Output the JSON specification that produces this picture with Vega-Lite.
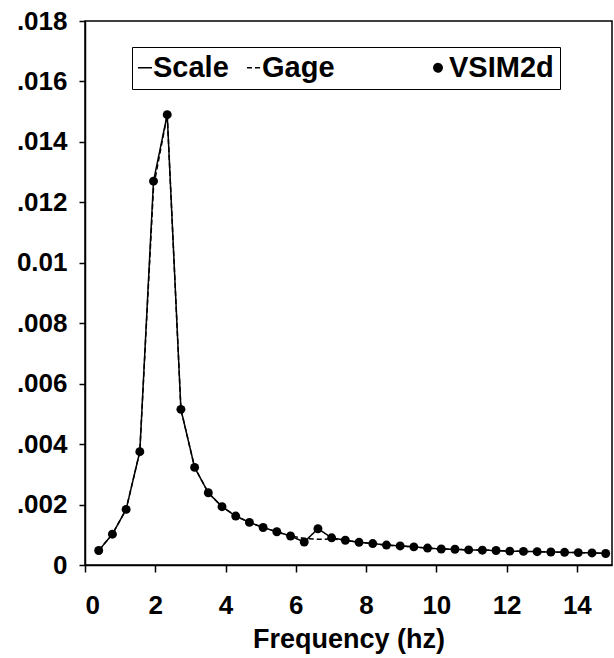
{
  "$schema": "https://vega.github.io/schema/vega-lite/v6.json",
  "width": 527,
  "height": 544,
  "autosize": {"type": "none"},
  "padding": {"left": 85, "top": 21, "right": 2, "bottom": 93},
  "background": "white",
  "data": {
    "values": [
      {"freq": 0.39, "value": 0.00048, "series": "Scale"},
      {"freq": 0.78, "value": 0.00102, "series": "Scale"},
      {"freq": 1.17, "value": 0.00184, "series": "Scale"},
      {"freq": 1.56, "value": 0.00375, "series": "Scale"},
      {"freq": 1.95, "value": 0.0127, "series": "Scale"},
      {"freq": 2.34, "value": 0.0149, "series": "Scale"},
      {"freq": 2.73, "value": 0.00515, "series": "Scale"},
      {"freq": 3.12, "value": 0.00323, "series": "Scale"},
      {"freq": 3.51, "value": 0.00239, "series": "Scale"},
      {"freq": 3.90, "value": 0.00193, "series": "Scale"},
      {"freq": 4.29, "value": 0.00162, "series": "Scale"},
      {"freq": 4.68, "value": 0.00141, "series": "Scale"},
      {"freq": 5.07, "value": 0.00124, "series": "Scale"},
      {"freq": 5.46, "value": 0.0011, "series": "Scale"},
      {"freq": 5.85, "value": 0.00096, "series": "Scale"},
      {"freq": 6.24, "value": 0.00076, "series": "Scale"},
      {"freq": 6.63, "value": 0.0012, "series": "Scale"},
      {"freq": 7.02, "value": 0.0009, "series": "Scale"},
      {"freq": 7.41, "value": 0.00082, "series": "Scale"},
      {"freq": 7.80, "value": 0.00075, "series": "Scale"},
      {"freq": 8.19, "value": 0.00071, "series": "Scale"},
      {"freq": 8.58, "value": 0.00066, "series": "Scale"},
      {"freq": 8.97, "value": 0.00063, "series": "Scale"},
      {"freq": 9.36, "value": 0.0006, "series": "Scale"},
      {"freq": 9.75, "value": 0.00056, "series": "Scale"},
      {"freq": 10.14, "value": 0.00053, "series": "Scale"},
      {"freq": 10.53, "value": 0.00052, "series": "Scale"},
      {"freq": 10.92, "value": 0.0005, "series": "Scale"},
      {"freq": 11.31, "value": 0.00049, "series": "Scale"},
      {"freq": 11.70, "value": 0.00048, "series": "Scale"},
      {"freq": 12.09, "value": 0.00046, "series": "Scale"},
      {"freq": 12.48, "value": 0.00045, "series": "Scale"},
      {"freq": 12.87, "value": 0.00044, "series": "Scale"},
      {"freq": 13.26, "value": 0.00043, "series": "Scale"},
      {"freq": 13.65, "value": 0.00042, "series": "Scale"},
      {"freq": 14.04, "value": 0.00041, "series": "Scale"},
      {"freq": 14.43, "value": 0.0004, "series": "Scale"},
      {"freq": 14.82, "value": 0.00038, "series": "Scale"},

      {"freq": 0.39, "value": 0.00048, "series": "Gage"},
      {"freq": 0.78, "value": 0.00102, "series": "Gage"},
      {"freq": 1.17, "value": 0.00184, "series": "Gage"},
      {"freq": 1.56, "value": 0.00375, "series": "Gage"},
      {"freq": 1.95, "value": 0.0125, "series": "Gage"},
      {"freq": 2.34, "value": 0.0149, "series": "Gage"},
      {"freq": 2.73, "value": 0.00515, "series": "Gage"},
      {"freq": 3.12, "value": 0.00323, "series": "Gage"},
      {"freq": 3.51, "value": 0.00239, "series": "Gage"},
      {"freq": 3.90, "value": 0.00193, "series": "Gage"},
      {"freq": 4.29, "value": 0.00162, "series": "Gage"},
      {"freq": 4.68, "value": 0.00141, "series": "Gage"},
      {"freq": 5.07, "value": 0.00124, "series": "Gage"},
      {"freq": 5.46, "value": 0.0011, "series": "Gage"},
      {"freq": 5.85, "value": 0.00096, "series": "Gage"},
      {"freq": 6.24, "value": 0.00088, "series": "Gage"},
      {"freq": 6.63, "value": 0.00085, "series": "Gage"},
      {"freq": 7.02, "value": 0.00086, "series": "Gage"},
      {"freq": 7.41, "value": 0.00082, "series": "Gage"},
      {"freq": 7.80, "value": 0.00075, "series": "Gage"},
      {"freq": 8.19, "value": 0.00071, "series": "Gage"},
      {"freq": 8.58, "value": 0.00066, "series": "Gage"},
      {"freq": 8.97, "value": 0.00063, "series": "Gage"},
      {"freq": 9.36, "value": 0.0006, "series": "Gage"},
      {"freq": 9.75, "value": 0.00056, "series": "Gage"},
      {"freq": 10.14, "value": 0.00053, "series": "Gage"},
      {"freq": 10.53, "value": 0.00052, "series": "Gage"},
      {"freq": 10.92, "value": 0.0005, "series": "Gage"},
      {"freq": 11.31, "value": 0.00049, "series": "Gage"},
      {"freq": 11.70, "value": 0.00048, "series": "Gage"},
      {"freq": 12.09, "value": 0.00046, "series": "Gage"},
      {"freq": 12.48, "value": 0.00045, "series": "Gage"},
      {"freq": 12.87, "value": 0.00044, "series": "Gage"},
      {"freq": 13.26, "value": 0.00043, "series": "Gage"},
      {"freq": 13.65, "value": 0.00042, "series": "Gage"},
      {"freq": 14.04, "value": 0.00041, "series": "Gage"},
      {"freq": 14.43, "value": 0.0004, "series": "Gage"},
      {"freq": 14.82, "value": 0.00038, "series": "Gage"},

      {"freq": 0.39, "value": 0.00048, "series": "VSIM2d"},
      {"freq": 0.78, "value": 0.00102, "series": "VSIM2d"},
      {"freq": 1.17, "value": 0.00184, "series": "VSIM2d"},
      {"freq": 1.56, "value": 0.00375, "series": "VSIM2d"},
      {"freq": 1.95, "value": 0.0127, "series": "VSIM2d"},
      {"freq": 2.34, "value": 0.0149, "series": "VSIM2d"},
      {"freq": 2.73, "value": 0.00515, "series": "VSIM2d"},
      {"freq": 3.12, "value": 0.00323, "series": "VSIM2d"},
      {"freq": 3.51, "value": 0.00239, "series": "VSIM2d"},
      {"freq": 3.90, "value": 0.00193, "series": "VSIM2d"},
      {"freq": 4.29, "value": 0.00162, "series": "VSIM2d"},
      {"freq": 4.68, "value": 0.00141, "series": "VSIM2d"},
      {"freq": 5.07, "value": 0.00124, "series": "VSIM2d"},
      {"freq": 5.46, "value": 0.0011, "series": "VSIM2d"},
      {"freq": 5.85, "value": 0.00096, "series": "VSIM2d"},
      {"freq": 6.24, "value": 0.00076, "series": "VSIM2d"},
      {"freq": 6.63, "value": 0.0012, "series": "VSIM2d"},
      {"freq": 7.02, "value": 0.0009, "series": "VSIM2d"},
      {"freq": 7.41, "value": 0.00082, "series": "VSIM2d"},
      {"freq": 7.80, "value": 0.00075, "series": "VSIM2d"},
      {"freq": 8.19, "value": 0.00071, "series": "VSIM2d"},
      {"freq": 8.58, "value": 0.00066, "series": "VSIM2d"},
      {"freq": 8.97, "value": 0.00063, "series": "VSIM2d"},
      {"freq": 9.36, "value": 0.0006, "series": "VSIM2d"},
      {"freq": 9.75, "value": 0.00056, "series": "VSIM2d"},
      {"freq": 10.14, "value": 0.00053, "series": "VSIM2d"},
      {"freq": 10.53, "value": 0.00052, "series": "VSIM2d"},
      {"freq": 10.92, "value": 0.0005, "series": "VSIM2d"},
      {"freq": 11.31, "value": 0.00049, "series": "VSIM2d"},
      {"freq": 11.70, "value": 0.00048, "series": "VSIM2d"},
      {"freq": 12.09, "value": 0.00046, "series": "VSIM2d"},
      {"freq": 12.48, "value": 0.00045, "series": "VSIM2d"},
      {"freq": 12.87, "value": 0.00044, "series": "VSIM2d"},
      {"freq": 13.26, "value": 0.00043, "series": "VSIM2d"},
      {"freq": 13.65, "value": 0.00042, "series": "VSIM2d"},
      {"freq": 14.04, "value": 0.00041, "series": "VSIM2d"},
      {"freq": 14.43, "value": 0.0004, "series": "VSIM2d"},
      {"freq": 14.82, "value": 0.00038, "series": "VSIM2d"}
    ]
  },
  "encoding": {
    "x": {
      "field": "freq",
      "type": "quantitative",
      "scale": {"domain": [0, 15], "nice": false, "zero": false},
      "axis": {
        "title": "Frequency (hz)",
        "values": [0, 2, 4, 6, 8, 10, 12, 14],
        "labelPadding": 20,
        "tickSize": 7,
        "titlePadding": 8,
        "titleFontSize": 27
      }
    },
    "y": {
      "field": "value",
      "type": "quantitative",
      "scale": {"domain": [0, 0.018], "nice": false},
      "axis": {
        "title": null,
        "values": [0, 0.002, 0.004, 0.006, 0.008, 0.01, 0.012, 0.014, 0.016, 0.018],
        "labelExpr": "datum.value == 0 ? '0' : (format(datum.value, '.3f') == '0.010' ? '0.01' : replace(format(datum.value, '.3f'), '0.', '.'))",
        "labelPadding": 12,
        "tickSize": 6
      }
    }
  },
  "layer": [
    {
      "transform": [{"filter": "datum.series != 'VSIM2d'"}],
      "mark": {"type": "line", "color": "black", "strokeWidth": 1.5},
      "encoding": {
        "strokeDash": {
          "field": "series",
          "type": "nominal",
          "scale": {"domain": ["Scale", "Gage", "VSIM2d"], "range": [[1, 0], [5, 3], [1, 0]]},
          "legend": {
            "title": null,
            "orient": "none",
            "legendX": 47,
            "legendY": 26,
            "direction": "horizontal",
            "padding": 6,
            "strokeColor": "black",
            "fillColor": "white",
            "symbolSize": 196,
            "symbolStrokeWidth": 1.5,
            "symbolStrokeColor": "black",
            "labelOffset": -14,
            "columnPadding": 15,
            "labelFontSize": 29,
            "labelFontWeight": "bold",
            "labelLimit": 400,
            "encode": {
              "symbols": {
                "update": {
                  "shape": {"signal": "datum.value == 'VSIM2d' ? 'circle' : 'stroke'"},
                  "size": {"signal": "datum.value == 'VSIM2d' ? 70 : 196"},
                  "fill": {"signal": "datum.value == 'VSIM2d' ? 'black' : 'transparent'"},
                  "strokeDash": {"signal": "datum.value == 'Gage' ? [5, 4] : [1, 0]"},
                  "stroke": {"value": "black"},
                  "strokeWidth": {"value": 1.5},
                  "x": {"signal": "datum.value == 'VSIM2d' ? 88 : 7"}
                }
              },
              "labels": {
                "update": {
                  "dx": {"signal": "datum.value == 'VSIM2d' ? 84 : 0"}
                }
              }
            }
          }
        }
      }
    },
    {
      "transform": [{"filter": "datum.series == 'VSIM2d'"}],
      "mark": {"type": "point", "filled": true, "color": "black", "size": 80, "opacity": 1},
      "encoding": {}
    }
  ],
  "config": {
    "font": "Liberation Sans",
    "view": {"stroke": "black", "strokeWidth": 1.5},
    "axis": {
      "grid": false,
      "domainColor": "black",
      "domainWidth": 1.5,
      "tickColor": "black",
      "tickWidth": 1.5,
      "labelColor": "black",
      "labelFontSize": 26,
      "labelFontWeight": "bold",
      "labelFont": "Liberation Sans",
      "titleColor": "black",
      "titleFont": "Liberation Sans",
      "titleFontWeight": "bold"
    },
    "legend": {"labelColor": "black", "labelFont": "Liberation Sans"}
  }
}
